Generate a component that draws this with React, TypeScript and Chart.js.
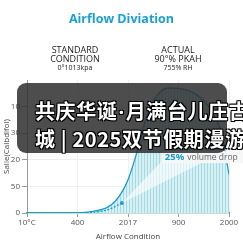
import React, { useEffect, useRef } from 'react';
import { Chart, registerables } from 'chart.js';
Chart.register(...registerables);

// ---- data ----
const xTickLabels = ['10°C', '400', '2017', '900', '2000'];
const yTickLabels = ['0', '50', '20', '30', '10'];
const actualX = [0, 0.5, 1.0, 1.2, 1.4, 1.6, 1.75, 1.9, 2.0, 2.1, 2.2, 2.3, 2.5, 2.8, 3.2, 3.6, 3.85, 4.0];
const actualY = [0, 0, 0, 0.03, 0.1, 0.22, 0.45, 0.85, 1.25, 1.8, 2.45, 3.2, 4.2, 4.7, 4.6, 4.0, 3.0, 1.45];
const standardX = [0, 0.5, 1.0, 1.25, 1.45, 1.64, 1.88];
const standardY = [0, 0, 0, 0.02, 0.06, 0.15, 0.38];
const dropPct = '25%';
const dropText = 'volume drop';
const dropAnchorX = 2.69;
const dropAnchorY = 2.1;
const titleText = 'Airflow Diviation';
const xTitle = 'Airflow Condition';
const yTitle = 'Salie(Calbdifol)';
const overlayLine1a = '共庆华诞';
const overlayDot = '·';
const overlayLine1b = '月满台儿庄古';
const overlayLine2 = '城 | 2025双节假期漫游';

const BLUE = '#1b9bd1';

function makePattern(): CanvasPattern | string {
  const c = document.createElement('canvas');
  c.width = 3;
  c.height = 8;
  const g = c.getContext('2d');
  if (!g) return '#cdeef2';
  g.fillStyle = '#d6f0f4';
  g.fillRect(0, 0, 3, 8);
  g.fillStyle = '#a6dae3';
  g.fillRect(0, 0, 1, 8);
  return g.createPattern(c, 'repeat') || '#cdeef2';
}

const calloutPlugin = {
  id: 'callout',
  afterDatasetsDraw(chart: any) {
    const { ctx, scales } = chart;
    const x = scales.x, y = scales.y;
    const n = standardX.length - 1;
    const mx = x.getPixelForValue(standardX[n]);
    const my = y.getPixelForValue(standardY[n]);
    const lx = x.getPixelForValue(dropAnchorX);
    const ly = y.getPixelForValue(dropAnchorY);
    ctx.save();
    ctx.fillStyle = 'rgba(255,255,255,0.6)';
    ctx.beginPath();
    ctx.moveTo(mx, my);
    ctx.lineTo(lx, ly + 3);
    ctx.lineTo(lx + 38, ly + 6);
    ctx.closePath();
    ctx.fill();
    ctx.fillStyle = 'rgba(247,247,247,0.95)';
    ctx.fillRect(lx - 1, ly - 6, 100, 12);
    ctx.textBaseline = 'middle';
    ctx.font = 'bold 9.5px "Open Sans"';
    ctx.fillStyle = BLUE;
    ctx.fillText(dropPct, lx + 2, ly);
    const w = ctx.measureText(dropPct).width;
    ctx.font = '8.5px "Open Sans"';
    ctx.fillStyle = '#666';
    ctx.fillText(dropText, lx + 2 + w + 3, ly);
    ctx.restore();
  },
};

export default function App() {
  const ref = useRef<HTMLCanvasElement | null>(null);

  useEffect(() => {
    if (!ref.current) return;
    Chart.defaults.font.family = '"Open Sans"';
    const pattern = makePattern();
    const nStd = standardX.length - 1;
    const chart = new Chart(ref.current, {
      type: 'line',
      data: {
        datasets: [
          {
            label: 'Standard',
            data: standardX.map((v, i) => ({ x: v, y: standardY[i] })),
            borderColor: BLUE,
            borderWidth: 1.3,
            borderDash: [2, 1.5],
            fill: false,
            pointRadius: (c: any) => (c.dataIndex === nStd ? 2 : 0),
            pointBackgroundColor: BLUE,
            pointBorderWidth: 0,
            cubicInterpolationMode: 'monotone',
          },
          {
            label: 'Actual',
            data: actualX.map((v, i) => ({ x: v, y: actualY[i] })),
            borderColor: BLUE,
            borderWidth: 1.3,
            fill: 'origin',
            backgroundColor: pattern as any,
            pointRadius: 0,
            cubicInterpolationMode: 'monotone',
          },
        ],
      },
      options: {
        animation: false,
        responsive: false,
        layout: { padding: { top: 80, right: 14, left: 0, bottom: 0 } },
        plugins: { legend: { display: false }, tooltip: { enabled: false } },
        scales: {
          x: {
            type: 'linear',
            min: 0,
            max: 4,
            afterFit: (s: any) => { s.height = 30; },
            ticks: {
              stepSize: 1,
              autoSkip: false,
              maxRotation: 0,
              padding: 1,
              color: '#555',
              font: { size: 8 },
              callback: (v: any) => xTickLabels[v] ?? null,
            },
            grid: { color: '#efefef', tickColor: '#999', tickLength: 4 },
            border: { color: '#3cb878', width: 1.2 },
            title: {
              display: true,
              text: xTitle,
              color: '#444',
              font: { size: 8 },
              padding: { top: 0, bottom: 1.5 },
            },
          },
          y: {
            type: 'linear',
            min: 0,
            max: 5,
            afterFit: (s: any) => { s.width = 27; },
            ticks: {
              stepSize: 1,
              padding: 2,
              color: '#555',
              font: { size: 8 },
              callback: (v: any) => yTickLabels[v] ?? null,
            },
            grid: { color: '#efefef', tickColor: '#999', tickLength: 5 },
            border: { color: '#999', width: 1 },
            title: {
              display: true,
              text: yTitle,
              color: '#444',
              font: { size: 8 },
              padding: { top: 2, bottom: 0 },
            },
          },
        },
      },
      plugins: [calloutPlugin],
    } as any);
    return () => chart.destroy();
  }, []);

  const hdr: React.CSSProperties = {
    position: 'absolute',
    width: 120,
    textAlign: 'center',
    fontFamily: '"Open Sans", sans-serif',
    color: '#222',
    whiteSpace: 'nowrap',
  };

  return (
    <div
      style={{
        position: 'fixed',
        left: 0,
        top: 0,
        width: 243,
        height: 243,
        overflow: 'hidden',
        background: '#fff',
      }}
    >
      <canvas ref={ref} width={243} height={243} style={{ position: 'absolute', left: 0, top: 0 }} />
      <div
        style={{
          ...hdr,
          left: 0,
          width: 243,
          top: 10,
          fontSize: 12.5,
          fontWeight: 700,
          color: '#1a9fd6',
          lineHeight: '18px',
        }}
      >
        {titleText}
      </div>
      <div style={{ ...hdr, left: 75 - 60, top: 45, fontSize: 9, lineHeight: '9px' }}>
        <div>STANDARD</div>
        <div>CONDITION</div>
        <div style={{ fontSize: 7, lineHeight: '10px' }}>0°1013kpa</div>
      </div>
      <div style={{ ...hdr, left: 178 - 60, top: 45, fontSize: 9, lineHeight: '9px' }}>
        <div>ACTUAL</div>
        <div>90°% PKAH</div>
        <div style={{ fontSize: 7, lineHeight: '10px' }}>755% RH</div>
      </div>
      <div
        style={{
          position: 'absolute',
          left: 17,
          top: 83,
          width: 210,
          height: 70,
          borderRadius: 9,
          background: 'rgba(48,48,48,0.86)',
        }}
      />
      <div
        style={{
          position: 'absolute',
          left: 35,
          top: 97,
          fontFamily: '"Noto Sans CJK SC", sans-serif',
          fontWeight: 700,
          fontSize: 20,
          letterSpacing: 0.6,
          lineHeight: '27px',
          color: '#fff',
          whiteSpace: 'nowrap',
          textShadow:
            '1px 1px 0 #000, -1px -1px 0 #000, 1px -1px 0 #000, -1px 1px 0 #000, 0 0 2px #000',
        }}
      >
        <div>
          {overlayLine1a}
          <span style={{ fontFamily: '"Open Sans", sans-serif', padding: '0 1px' }}>{overlayDot}</span>
          {overlayLine1b}
        </div>
        <div>{overlayLine2}</div>
      </div>
    </div>
  );
}
